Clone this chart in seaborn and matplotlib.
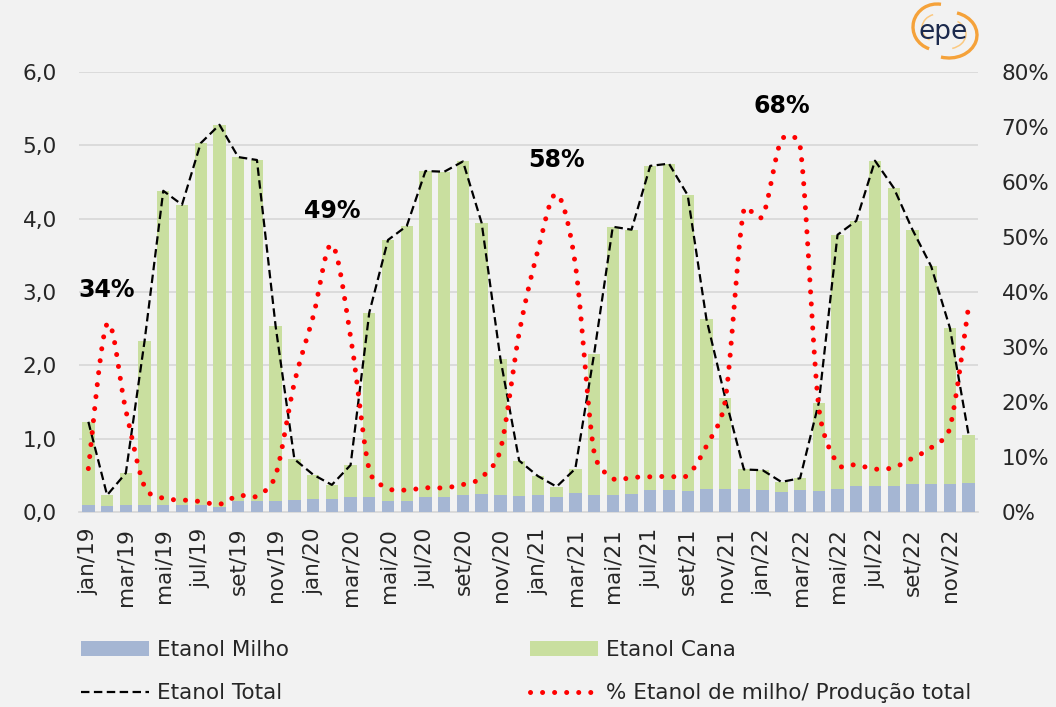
import numpy as np
import pandas as pd
import matplotlib
matplotlib.use("Agg")
import matplotlib.pyplot as plt
import seaborn as sns
from matplotlib.patches import Patch, Arc
from matplotlib.lines import Line2D

# ---- data -------------------------------------------------------------
months = ["jan", "fev", "mar", "abr", "mai", "jun", "jul", "ago", "set", "out", "nov", "dez"]
years = ["19", "20", "21", "22"]
periods = [f"{m}/{y}" for y in years for m in months]

# Etanol total production (bar top / dashed line)
etanol_total = [
    1.23, 0.23, 0.53, 2.33, 4.38, 4.19, 5.03, 5.28, 4.84, 4.80, 2.53, 0.72,
    0.51, 0.37, 0.64, 2.72, 3.71, 3.90, 4.65, 4.64, 4.78, 3.94, 2.09, 0.70,
    0.49, 0.345, 0.59, 2.15, 3.89, 3.85, 4.72, 4.75, 4.32, 2.63, 1.56, 0.58,
    0.57, 0.41, 0.46, 1.49, 3.78, 3.97, 4.79, 4.42, 3.85, 3.35, 2.51, 1.05,
]
# Etanol de milho (lower stacked segment)
etanol_milho = [
    0.10, 0.08, 0.09, 0.10, 0.10, 0.09, 0.09, 0.07, 0.15, 0.145, 0.15, 0.17,
    0.18, 0.18, 0.20, 0.20, 0.15, 0.15, 0.21, 0.21, 0.23, 0.245, 0.23, 0.22,
    0.23, 0.20, 0.26, 0.23, 0.23, 0.245, 0.30, 0.30, 0.29, 0.31, 0.31, 0.32,
    0.30, 0.27, 0.30, 0.28, 0.31, 0.36, 0.36, 0.35, 0.38, 0.385, 0.38, 0.40,
]
# Share of corn ethanol in total production (%)
pct_milho = [
    7.9, 34.2, 18.5, 4.6, 2.5, 2.2, 1.9, 1.4, 3.0, 2.9, 6.7, 23.5,
    35.5, 48.6, 32.0, 7.6, 4.3, 4.0, 4.4, 4.4, 5.0, 6.3, 11.3, 32.5,
    47.5, 57.8, 45.0, 10.9, 6.1, 6.3, 6.4, 6.5, 6.7, 12.0, 20.2, 55.0,
    53.8, 67.6, 66.6, 19.0, 8.8, 8.6, 7.8, 8.1, 9.8, 11.7, 15.3, 37.5,
]
# Periods whose share is labelled
peak_periods = ["fev/19", "fev/20", "fev/21", "fev/22"]

df = pd.DataFrame({"periodo": periods, "total": etanol_total,
                   "milho": etanol_milho, "pct": pct_milho})

# ---- style ------------------------------------------------------------
BG = "#f2f2f2"
GRID = "#d9d9d9"
C_MILHO = "#a5b6d3"
C_CANA = "#c9df9f"

sns.set_style("white")
plt.rcParams["font.family"] = ["DejaVu Sans"]
plt.rcParams["axes.facecolor"] = BG
plt.rcParams["figure.facecolor"] = BG

FS = 15.5

fig = plt.figure(figsize=(10.56, 7.07), dpi=100)
ax = fig.add_axes([79 / 1056, 1 - 512 / 707, (978 - 79) / 1056, (512 - 72) / 707])
ax.set_facecolor(BG)

# stacked bars: full height in cane colour, corn segment drawn over the base
sns.barplot(data=df, x="periodo", y="total", color=C_CANA, saturation=1,
            width=0.66, ax=ax, zorder=2)
sns.barplot(data=df, x="periodo", y="milho", color=C_MILHO, saturation=1,
            width=0.66, ax=ax, zorder=3)
for p in ax.patches:
    p.set_linewidth(0)

xpos = np.arange(len(df))
ax.plot(xpos, df["total"], color="black", lw=1.6, linestyle=(0, (3.8, 2.0)),
        zorder=5)

ax.set_xlim(-0.5, len(df) - 0.5)
ax.set_ylim(0, 6)
ax.set_yticks(np.arange(0, 7, 1))
ax.set_yticklabels([f"{v:.1f}".replace(".", ",") for v in np.arange(0, 7, 1)])
ax.yaxis.grid(True, color=GRID, lw=1.3, zorder=0)
ax.set_axisbelow(True)
ax.set_xlabel("")
ax.set_ylabel("")

ax.set_xticks(xpos[::2])
ax.set_xticklabels(df["periodo"][::2], rotation=90)
ax.set_xticks(np.arange(-0.5, len(df), 2), minor=True)
ax.tick_params(axis="x", which="major", length=0, pad=11.5, labelsize=FS)
ax.tick_params(axis="x", which="minor", length=6, width=1.3, color=GRID)
ax.tick_params(axis="y", length=0, pad=16, labelsize=FS)
for s in ["top", "left", "right"]:
    ax.spines[s].set_visible(False)
ax.spines["bottom"].set_color(GRID)
ax.spines["bottom"].set_linewidth(1.3)

# ---- share of corn ethanol (secondary axis, smoothed dotted line) -----
ax2 = ax.twinx()
ax2.patch.set_visible(False)
ax2.set_ylim(0, 80)


def smooth_line(axis, x, y, n=30, f=1.0 / 6.0):
    """Bezier smoothing with handle lengths limited to half the chord,
    evaluated in display space so the shape follows the drawn scale."""
    disp = axis.transData.transform(np.column_stack([x, y]).astype(float))
    m = len(disp)
    out = []
    for i in range(m - 1):
        p0 = disp[max(i - 1, 0)]
        p1 = disp[i]
        p2 = disp[i + 1]
        p3 = disp[min(i + 2, m - 1)]
        d12 = np.hypot(*(p2 - p1))
        d02 = np.hypot(*(p2 - p0))
        d13 = np.hypot(*(p3 - p1))
        f1 = min(f, d12 / (2 * d02)) if d02 > 0 else f
        f2 = min(f, d12 / (2 * d13)) if d13 > 0 else f
        c1 = p1 + (p2 - p0) * f1
        c2 = p2 - (p3 - p1) * f2
        t = np.linspace(0, 1, n, endpoint=(i == m - 2))[:, None]
        seg = ((1 - t) ** 3) * p1 + 3 * (1 - t) ** 2 * t * c1 \
            + 3 * (1 - t) * t ** 2 * c2 + t ** 3 * p2
        out.append(seg)
    pts = axis.transData.inverted().transform(np.vstack(out))
    return pts[:, 0], pts[:, 1]


cx, cy = smooth_line(ax2, xpos, df["pct"].values)
ax2.plot(cx, cy, color="#ff0000", lw=3.6,
         linestyle=(0, (0.01, 2.4)), dash_capstyle="round", zorder=6)

for per in peak_periods:
    i = periods.index(per)
    v = pct_milho[i]
    ax2.annotate(f"{v:.0f}%", xy=(i, v), xytext=(0, 24.5),
                 textcoords="offset points", ha="center", va="center",
                 fontsize=17, fontweight="bold", color="black")

ax2.set_yticks(np.arange(0, 81, 10))
ax2.set_yticklabels([f"{v}%" for v in range(0, 81, 10)])
ax2.tick_params(axis="y", length=0, pad=17, labelsize=FS)
for s in ax2.spines.values():
    s.set_visible(False)
ax2.set_ylabel("")

# ---- legend -----------------------------------------------------------
h_milho = Patch(facecolor=C_MILHO, edgecolor="none", label="Etanol Milho")
h_cana = Patch(facecolor=C_CANA, edgecolor="none", label="Etanol Cana")
h_total = Line2D([], [], color="black", lw=1.6, linestyle=(0, (3.8, 2.0)),
                 label="Etanol Total")
h_pct = Line2D([], [], color="#ff0000", lw=3.6, linestyle=(0, (0.01, 2.4)),
               dash_capstyle="round", label="% Etanol de milho/ Produção total")

leg_kw = dict(frameon=False, fontsize=FS, handlelength=3.16, handleheight=0.65,
              handletextpad=0.37, labelspacing=1.08, borderpad=0,
              borderaxespad=0, loc="upper left")
fig.legend(handles=[h_milho, h_total], bbox_to_anchor=(81 / 1056, 1 - 640 / 707),
           **leg_kw)
fig.legend(handles=[h_cana, h_pct], bbox_to_anchor=(530 / 1056, 1 - 640 / 707),
           **leg_kw)

# ---- logo -------------------------------------------------------------
lax = fig.add_axes([900 / 1056, 1 - 60 / 707, 90 / 1056, 60 / 707])
lax.set_xlim(900, 990)
lax.set_ylim(647, 707)
lax.axis("off")
ORANGE = "#f5a23a"
LIGHT_OR = "#fbc981"
lax.add_patch(Arc((937, 680), 48, 46, theta1=80, theta2=250, lw=2.4, color=ORANGE))
lax.add_patch(Arc((938, 679), 32, 28, theta1=110, theta2=235, lw=1.1, color=LIGHT_OR))
lax.add_patch(Arc((949, 672), 56, 46, theta1=-110, theta2=70, lw=2.4, color=ORANGE))
lax.add_patch(Arc((947, 673), 38, 30, theta1=-70, theta2=50, lw=1.1, color=LIGHT_OR))
lax.text(943, 675, "epe", ha="center", va="center", fontsize=19, color="#1c2a4d")

fig.savefig("out.png", dpi=100, facecolor=BG)
